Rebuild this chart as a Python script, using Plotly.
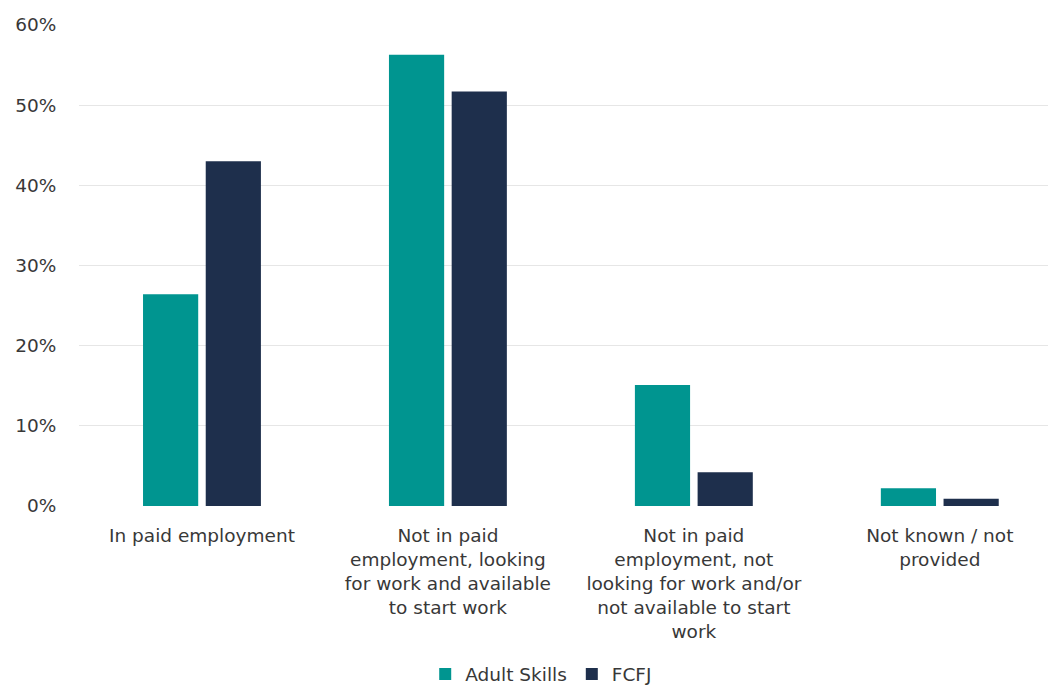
import plotly.graph_objects as go

categories = [
    "In paid employment",
    "Not in paid<br>employment, looking<br>for work and available<br>to start work",
    "Not in paid<br>employment, not<br>looking for work and/or<br>not available to start<br>work",
    "Not known / not<br>provided",
]
adult_skills = [26.4, 56.3, 15.1, 2.2]
fcfj = [43.0, 51.7, 4.2, 0.9]
y_ticks = [0, 10, 20, 30, 40, 50, 60]
y_tick_labels = ["0%", "10%", "20%", "30%", "40%", "50%", "60%"]

TEAL = "#009590"
NAVY = "#1e2f4c"
FONT = "DejaVu Sans, Arial, sans-serif"
TEXT = "#383838"
FS = 18.5

fig = go.Figure()
fig.add_trace(go.Bar(name="Adult Skills", x=categories, y=adult_skills,
                     marker=dict(color=TEAL, line=dict(width=0))))
fig.add_trace(go.Bar(name="FCFJ", x=categories, y=fcfj,
                     marker=dict(color=NAVY, line=dict(width=0))))

fig.update_layout(
    width=1048, height=690,
    margin=dict(l=79, r=0, t=25, b=184, autoexpand=False),
    paper_bgcolor="white", plot_bgcolor="white",
    barmode="group", bargap=0.49, bargroupgap=0.12,
    font=dict(family=FONT, size=FS, color=TEXT),
    showlegend=True,
    legend=dict(orientation="h", x=0.477, xanchor="center", y=-0.35, yanchor="middle",
                font=dict(size=FS, color=TEXT), itemwidth=30, traceorder="normal"),
)
fig.update_xaxes(type="category", range=[-0.5, 3.44], showgrid=False, showline=False,
                 zeroline=False, ticks="outside", ticklen=13, tickcolor="rgba(0,0,0,0)",
                 tickfont=dict(size=FS, color=TEXT), tickangle=0)
fig.update_yaxes(range=[0, 60], tickvals=y_ticks, ticktext=y_tick_labels,
                 showgrid=True, gridcolor="#e6e6e6", gridwidth=1, zeroline=False,
                 showline=False, ticks="outside", ticklen=18, tickcolor="rgba(0,0,0,0)",
                 tickfont=dict(size=FS, color=TEXT))

fig.write_html("out.html")
